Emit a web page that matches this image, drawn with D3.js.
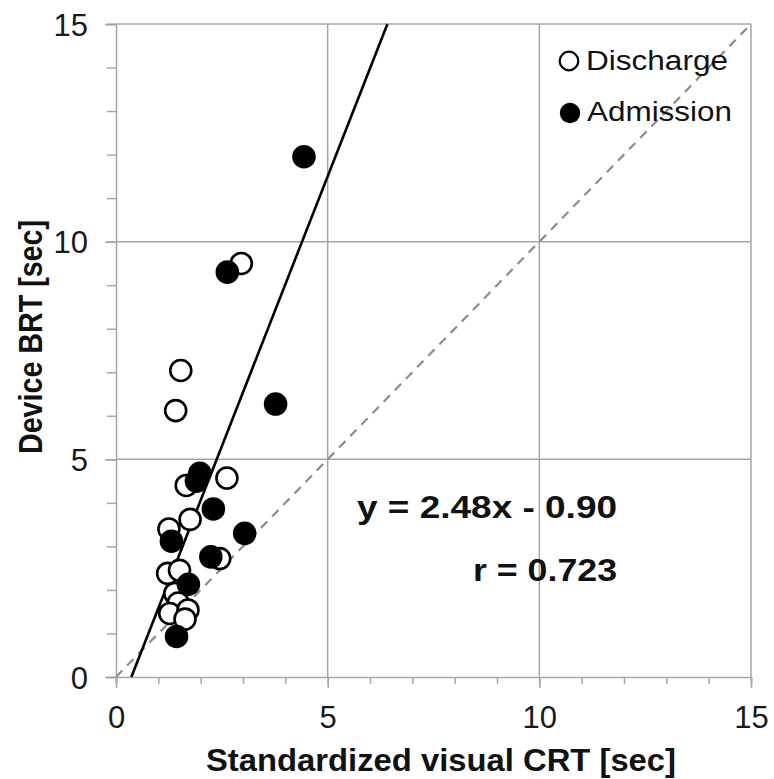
<!DOCTYPE html>
<html>
<head>
<meta charset="utf-8">
<script src="https://cdn.jsdelivr.net/npm/d3@7"></script>
<style>
  html, body { margin: 0; padding: 0; background: #fff; }
  svg { display: block; font-family: "Liberation Sans", Arial, sans-serif; }
</style>
</head>
<body>
<svg id="chart" width="774" height="779"></svg>
<script>
// ---- data ----
const xTicks = [0, 5, 10, 15];
const yTicks = [0, 5, 10, 15];
const minorTicks = d3.range(0, 16, 1);
const gridValues = [5, 10, 15];

const dischargeX = [2.96, 1.53, 1.41, 2.62, 1.66, 1.75, 1.25, 2.45, 1.22, 1.50, 1.39, 1.47, 1.27, 1.70, 1.63];
const dischargeY = [9.50, 7.04, 6.12, 4.57, 4.40, 3.62, 3.40, 2.72, 2.38, 2.45, 1.92, 1.70, 1.46, 1.54, 1.33];

const admissionX = [4.44, 2.63, 3.77, 1.98, 1.90, 2.30, 1.31, 3.04, 2.24, 1.71, 1.43];
const admissionY = [11.95, 9.30, 6.27, 4.68, 4.50, 3.86, 3.12, 3.30, 2.76, 2.13, 0.93];

const fitSlope = 2.48;
const fitIntercept = -0.90;
const equationText = "y = 2.48x - 0.90";
const rText = "r = 0.723";
const xTitle = "Standardized visual CRT [sec]";
const yTitle = "Device BRT [sec]";
const legendLabels = ["Discharge", "Admission"];

// ---- layout ----
const svg = d3.select("#chart");
const x = d3.scaleLinear().domain([0, 15]).range([116, 751]);
const y = d3.scaleLinear().domain([0, 15]).range([677, 24]);
const gridColor = "#a6a6a6";

// gridlines
const g = svg.append("g");
g.selectAll(".vg").data(gridValues).enter().append("line")
  .attr("x1", d => x(d)).attr("x2", d => x(d))
  .attr("y1", y(0)).attr("y2", y(15))
  .attr("stroke", gridColor).attr("stroke-width", 1.5);
g.selectAll(".hg").data(gridValues).enter().append("line")
  .attr("x1", x(0)).attr("x2", x(15))
  .attr("y1", d => y(d)).attr("y2", d => y(d))
  .attr("stroke", gridColor).attr("stroke-width", 1.5);

// axes
const xAxis = d3.axisBottom(x).tickValues(minorTicks).tickSize(7).tickFormat("");
const xAxisMajor = d3.axisBottom(x).tickValues(xTicks).tickSize(11).tickPadding(18);
const yAxis = d3.axisLeft(y).tickValues(minorTicks).tickSize(9).tickFormat("");
const yAxisMajor = d3.axisLeft(y).tickValues(yTicks).tickSize(11).tickPadding(17);

function styleAxis(sel) {
  sel.select(".domain").attr("stroke", gridColor).attr("stroke-width", 1.5);
  sel.selectAll(".tick line").attr("stroke", gridColor).attr("stroke-width", 1.5);
  sel.selectAll(".tick text").attr("fill", "#1a1a1a").style("font-size", "31px")
     .style("font-family", "'Liberation Sans', Arial, sans-serif");
}
svg.append("g").attr("transform", `translate(0,${y(0)})`).call(xAxis).call(styleAxis);
svg.append("g").attr("transform", `translate(0,${y(0)})`).call(xAxisMajor).call(styleAxis)
  .call(s => s.select(".domain").remove());
svg.append("g").attr("transform", `translate(${x(0)},0)`).call(yAxis).call(styleAxis);
svg.append("g").attr("transform", `translate(${x(0)},0)`).call(yAxisMajor).call(styleAxis)
  .call(s => s.select(".domain").remove())
  .call(s => s.selectAll(".tick text").attr("dy", "0.36em"));

// identity dashed line
svg.append("line")
  .attr("x1", x(0)).attr("y1", y(0)).attr("x2", x(15)).attr("y2", y(15))
  .attr("stroke", "#8c8c8c").attr("stroke-width", 2.2).attr("stroke-dasharray", "9,7");

// regression line from y=0 to y=15
const fx0 = (0 - fitIntercept) / fitSlope;
const fx1 = (15 - fitIntercept) / fitSlope;
svg.append("line")
  .attr("x1", x(fx0)).attr("y1", y(0)).attr("x2", x(fx1)).attr("y2", y(15))
  .attr("stroke", "#000").attr("stroke-width", 2.6);

// points
const discharge = dischargeX.map((v, i) => ({ x: v, y: dischargeY[i] }));
const admission = admissionX.map((v, i) => ({ x: v, y: admissionY[i] }));

svg.append("g").selectAll("circle").data(discharge).enter().append("circle")
  .attr("cx", d => x(d.x)).attr("cy", d => y(d.y)).attr("r", 10.5)
  .attr("fill", "#fff").attr("stroke", "#000").attr("stroke-width", 2.6);

svg.append("g").selectAll("circle").data(admission).enter().append("circle")
  .attr("cx", d => x(d.x)).attr("cy", d => y(d.y)).attr("r", 11.8)
  .attr("fill", "#000");

// legend
svg.append("circle").attr("cx", 569).attr("cy", 61).attr("r", 9.3)
  .attr("fill", "#fff").attr("stroke", "#000").attr("stroke-width", 2.2);
svg.append("circle").attr("cx", 570).attr("cy", 113).attr("r", 10.2).attr("fill", "#000");
svg.append("text").attr("x", 586).attr("y", 70).text(legendLabels[0])
  .style("font-size", "27px").attr("fill", "#111")
  .attr("textLength", 142).attr("lengthAdjust", "spacingAndGlyphs");
svg.append("text").attr("x", 587).attr("y", 121).text(legendLabels[1])
  .style("font-size", "27px").attr("fill", "#111")
  .attr("textLength", 145).attr("lengthAdjust", "spacingAndGlyphs");

// equation text
svg.append("text").attr("x", 357).attr("y", 518).text(equationText)
  .style("font-size", "31px").style("font-weight", "bold").attr("fill", "#111")
  .attr("textLength", 260).attr("lengthAdjust", "spacingAndGlyphs");
svg.append("text").attr("x", 473).attr("y", 581).text(rText)
  .style("font-size", "31px").style("font-weight", "bold").attr("fill", "#111")
  .attr("textLength", 144).attr("lengthAdjust", "spacingAndGlyphs");

// axis titles
svg.append("text").attr("x", 206).attr("y", 771).text(xTitle)
  .style("font-size", "32px").style("font-weight", "bold").attr("fill", "#111")
  .attr("textLength", 470).attr("lengthAdjust", "spacingAndGlyphs");
svg.append("text").attr("transform", "translate(42,454) rotate(-90)").text(yTitle)
  .style("font-size", "33px").style("font-weight", "bold").attr("fill", "#111")
  .attr("textLength", 234).attr("lengthAdjust", "spacingAndGlyphs");
</script>
</body>
</html>
